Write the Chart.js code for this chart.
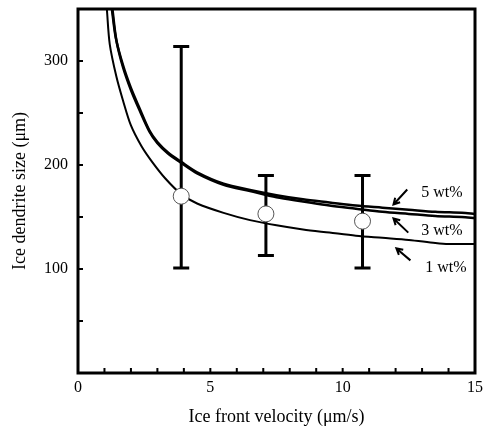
<!DOCTYPE html>
<html>
<head>
<meta charset="utf-8">
<script src="https://cdn.jsdelivr.net/npm/chart.js@4.4.1/dist/chart.umd.min.js"></script>
<style>
  html, body { margin: 0; padding: 0; background: #fff; }
  #wrap { width: 484px; height: 428px; }
</style>
</head>
<body>
<div id="wrap"><canvas id="chart"></canvas></div>
<script>
// curves (velocity in um/s, size in um)
const v1 = [1.09, 1.2, 1.45, 1.7, 2.0, 2.4, 2.8, 3.3, 3.9, 4.5, 5.5, 6.5, 7.5, 8.5, 9.5, 10.5, 11.5, 12.5, 13.5, 14, 15];
const size1 = [350, 316, 285, 262, 238, 218, 203, 187, 172, 163, 154, 147, 142, 138, 135, 132, 130, 128, 125, 124, 124];

const v3 = [1.3, 1.45, 1.7, 2.0, 2.3, 2.7, 3.0, 3.4, 3.9, 4.5, 5.5, 6.5, 7.5, 8.5, 9.5, 10.5, 11.5, 12.5, 13.5, 14.5, 15];
const size3 = [350, 320, 294, 272, 254, 232, 221, 211, 202, 192, 181, 175, 169, 165, 161, 158, 155, 153, 151, 150, 149];

const v5 = [1.28, 1.43, 1.7, 2.0, 2.3, 2.7, 3.0, 3.4, 3.9, 4.5, 5.5, 6.5, 7.5, 8.5, 9.5, 10.5, 11.5, 12.5, 13.5, 14.5, 15];
const size5 = [350, 322, 296, 274, 256, 233, 222, 212, 203, 193, 182, 176, 171, 167, 164, 161, 159, 157, 155, 154, 153];

// measured points with error bars
const measV = [3.9, 7.1, 10.75];
const measMean = [170, 153, 146];
const measHigh = [314, 190, 190];
const measLow = [101, 113, 101];

// labels and arrows (data units)
const labelText = ['5 wt%', '3 wt%', '1 wt%'];
const labelX = [12.97, 12.97, 13.12];
const labelY = [173.5, 137, 101.6];
const arrowFromX = [12.44, 12.48, 12.56];
const arrowFromY = [176.4, 135, 108.3];
const arrowToX = [11.92, 11.92, 12.03];
const arrowToY = [162, 148.6, 119.8];

const FONT = '"Liberation Serif", "Times New Roman", serif';

function pts(xs, ys) {
    return xs.map((x, i) => ({ x: x, y: ys[i] }));
}

const noPadding = () => ({ left: 0, top: 0, right: 0, bottom: 0 });

const framePlugin = {
    id: 'frame',
    beforeDatasetsDraw(chart) {
        const ctx = chart.ctx;
        const xs = chart.scales.x, ys = chart.scales.y;
        ctx.save();
        ctx.strokeStyle = '#000';
        ctx.lineWidth = 3;
        measV.forEach((v, i) => {
            const px = xs.getPixelForValue(v);
            const top = ys.getPixelForValue(measHigh[i]);
            const bot = ys.getPixelForValue(measLow[i]);
            ctx.beginPath();
            ctx.moveTo(px, top);
            ctx.lineTo(px, bot);
            ctx.moveTo(px - 8, top);
            ctx.lineTo(px + 8, top);
            ctx.moveTo(px - 8, bot);
            ctx.lineTo(px + 8, bot);
            ctx.stroke();
        });
        ctx.restore();
    },
    afterDraw(chart) {
        const ctx = chart.ctx;
        const a = chart.chartArea;
        const xs = chart.scales.x, ys = chart.scales.y;
        ctx.save();
        ctx.strokeStyle = '#000';
        // inward ticks
        ctx.lineWidth = 2;
        ctx.beginPath();
        xs.ticks.forEach(t => {
            const px = xs.getPixelForValue(t.value);
            ctx.moveTo(px, a.bottom);
            ctx.lineTo(px, a.bottom - 5);
        });
        ys.ticks.forEach(t => {
            const py = ys.getPixelForValue(t.value);
            ctx.moveTo(a.left, py);
            ctx.lineTo(a.left + 5, py);
        });
        ctx.stroke();
        // box
        ctx.lineWidth = 3;
        ctx.strokeRect(a.left, a.top, a.right - a.left, a.bottom - a.top);
        // labels with arrows
        ctx.fillStyle = '#000';
        ctx.font = '16px ' + FONT;
        ctx.textBaseline = 'middle';
        ctx.textAlign = 'left';
        ctx.lineWidth = 2;
        labelText.forEach((s, i) => {
            ctx.fillText(s, xs.getPixelForValue(labelX[i]), ys.getPixelForValue(labelY[i]));
            const x0 = xs.getPixelForValue(arrowFromX[i]), y0 = ys.getPixelForValue(arrowFromY[i]);
            const x1 = xs.getPixelForValue(arrowToX[i]), y1 = ys.getPixelForValue(arrowToY[i]);
            const ang = Math.atan2(y1 - y0, x1 - x0);
            ctx.beginPath();
            ctx.moveTo(x0, y0);
            ctx.lineTo(x1, y1);
            ctx.moveTo(x1 - 7 * Math.cos(ang - 0.5), y1 - 7 * Math.sin(ang - 0.5));
            ctx.lineTo(x1, y1);
            ctx.lineTo(x1 - 7 * Math.cos(ang + 0.5), y1 - 7 * Math.sin(ang + 0.5));
            ctx.stroke();
        });
        ctx.restore();
    }
};

const curve = (xs, ys, w) => ({
    data: pts(xs, ys),
    showLine: true,
    borderColor: '#000',
    borderWidth: w,
    pointRadius: 0,
    tension: 0.3,
    order: 2
});

new Chart(document.getElementById('chart'), {
    type: 'scatter',
    data: {
        datasets: [
            {
                data: pts(measV, measMean),
                pointRadius: 8,
                pointBackgroundColor: '#fff',
                pointBorderColor: '#555',
                pointBorderWidth: 1,
                order: 0
            },
            curve(v1, size1, 2),
            curve(v3, size3, 2.5),
            curve(v5, size5, 2.5)
        ]
    },
    options: {
        responsive: true,
        maintainAspectRatio: false,
        animation: false,
        layout: { padding: { top: 8, right: 7, left: 0, bottom: 0 } },
        plugins: {
            legend: { display: false },
            tooltip: { enabled: false }
        },
        scales: {
            x: {
                type: 'linear',
                min: 0,
                max: 15,
                grid: { display: false, drawTicks: false },
                border: { display: false },
                ticks: {
                    stepSize: 1,
                    padding: 5,
                    color: '#000',
                    font: { family: FONT, size: 16 },
                    maxRotation: 0,
                    autoSkip: false,
                    callback: v => (v % 5 === 0 ? String(v) : '')
                },
                title: {
                    display: true,
                    text: 'Ice front velocity (μm/s)',
                    color: '#000',
                    font: { family: FONT, size: 18 },
                    padding: { top: 2, bottom: 0 }
                },
                afterFit: s => {
                    s.height = 55;
                    s.paddingLeft = 0;
                    s.paddingRight = 0;
                    s.getPadding = noPadding;
                }
            },
            y: {
                min: 0,
                max: 350,
                grid: { display: false, drawTicks: false },
                border: { display: false },
                ticks: {
                    stepSize: 50,
                    padding: 10,
                    color: '#000',
                    font: { family: FONT, size: 16 },
                    autoSkip: false,
                    callback: v => (v > 0 && v % 100 === 0 ? String(v) : '')
                },
                title: {
                    display: true,
                    text: 'Ice dendrite size (μm)',
                    color: '#000',
                    font: { family: FONT, size: 18 },
                    padding: { top: 9, bottom: 0 }
                },
                afterFit: s => {
                    s.width = 78;
                    s.paddingTop = 0;
                    s.paddingBottom = 0;
                    s.getPadding = noPadding;
                }
            }
        }
    },
    plugins: [framePlugin]
});
</script>
</body>
</html>
